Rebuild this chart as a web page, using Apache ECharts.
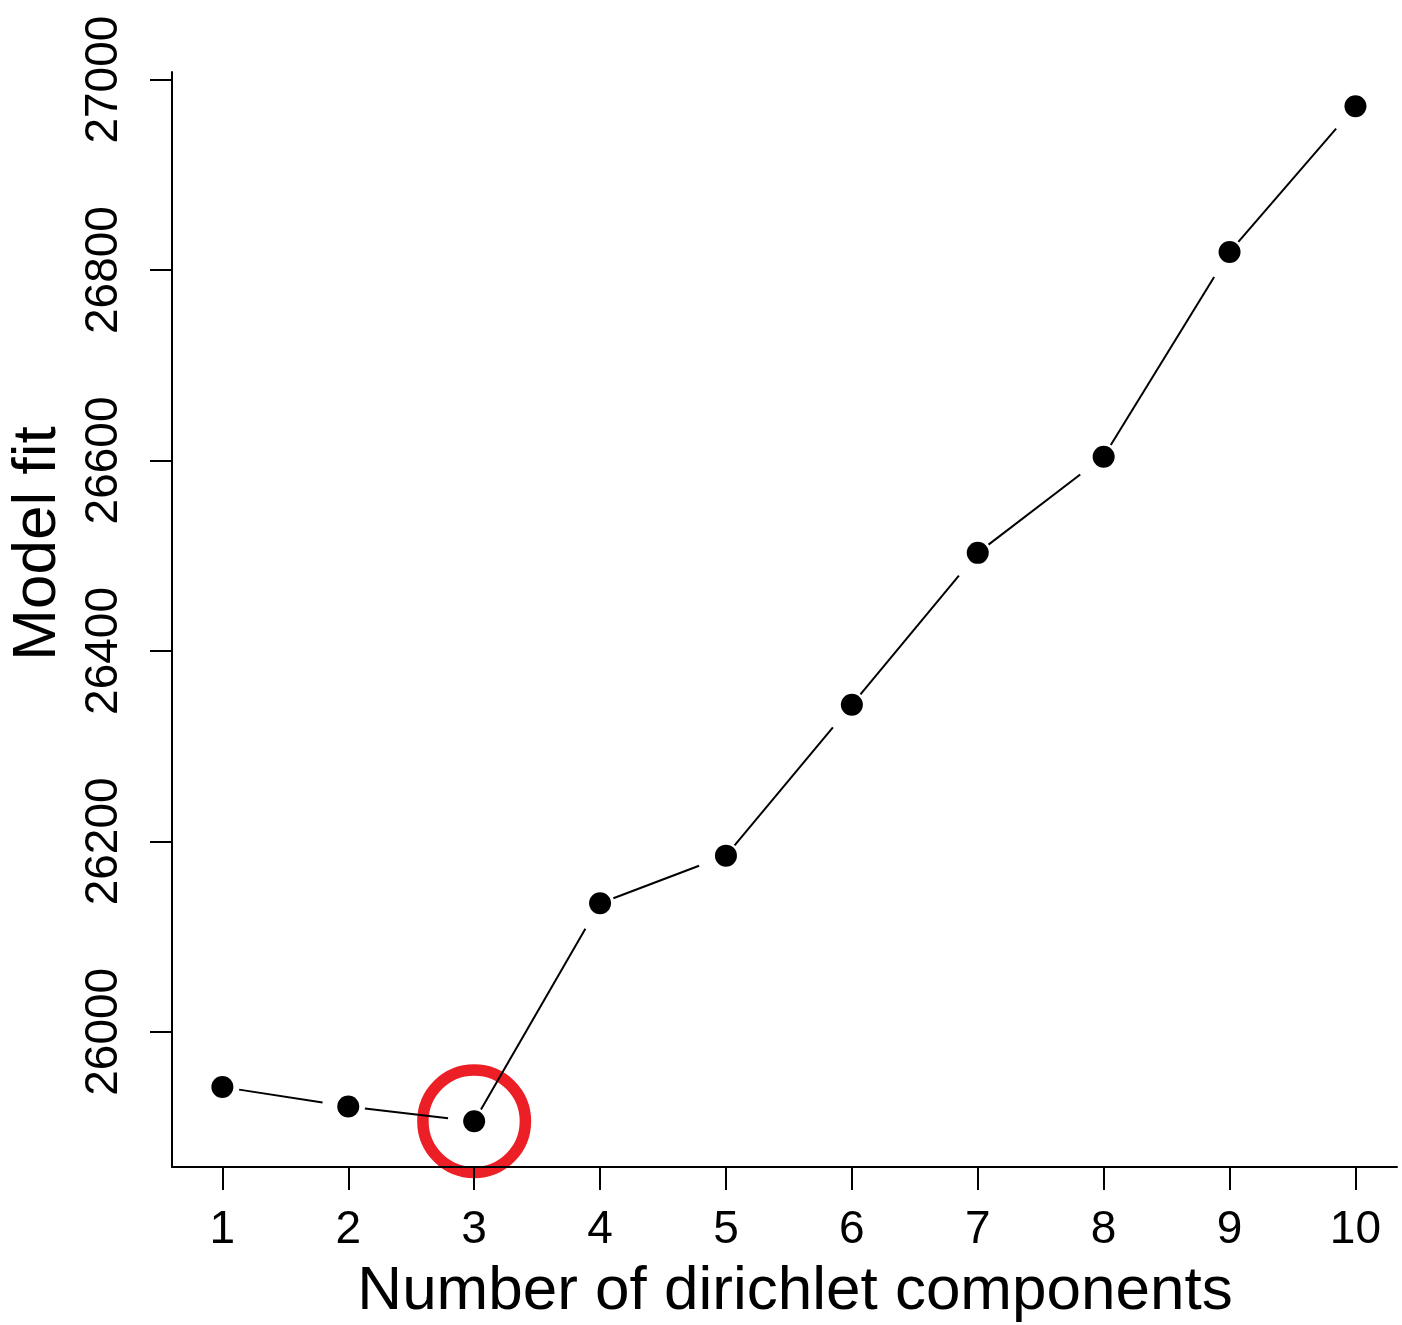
<!DOCTYPE html>
<html>
<head>
<meta charset="utf-8">
<script src="https://cdn.jsdelivr.net/npm/echarts@6/dist/echarts.min.js"></script>
<style>
  html, body { margin: 0; padding: 0; background: #fff; }
  #chart { width: 1402px; height: 1325px; }
</style>
</head>
<body>
<div id="chart"></div>
<script>
// ---- data ----
const components = [1, 2, 3, 4, 5, 6, 7, 8, 9, 10];
const modelFit = [25942, 25921.5, 25906, 26135, 26185, 26343.5, 26503, 26604, 26819, 26972];
const xTickValues = [1, 2, 3, 4, 5, 6, 7, 8, 9, 10];
const yTickValues = [26000, 26200, 26400, 26600, 26800, 27000];
const highlightIndex = 2; // 3 components
const xTitle = 'Number of dirichlet components';
const yTitle = 'Model fit';

// ---- derived ----
const points = components.map((c, i) => [c, modelFit[i]]);
const segments = [];
for (let i = 0; i < components.length - 1; i++) {
  segments.push([components[i], modelFit[i], components[i + 1], modelFit[i + 1]]);
}

const FONT = "'Liberation Sans', Arial, Helvetica, sans-serif";
const chart = echarts.init(document.getElementById('chart'), null, { renderer: 'canvas' });

const option = {
  backgroundColor: '#ffffff',
  animation: false,
  grid: { left: 172, top: 72, width: 1225, height: 1095, containLabel: false, outerBoundsMode: 'none' },
  xAxis: {
    type: 'value',
    min: 0.6,
    max: 10.33,
    z: 5,
    name: xTitle,
    nameLocation: 'middle',
    nameGap: 94,
    nameTextStyle: { fontFamily: FONT, fontSize: 62, color: '#000', padding: [0, 0, 0, 21] },
    axisLine: { show: true, onZero: false, lineStyle: { color: '#000', width: 2 } },
    axisTick: { show: true, customValues: xTickValues, length: 23, lineStyle: { color: '#000', width: 2 } },
    axisLabel: {
      show: true, customValues: xTickValues, margin: 40,
      fontFamily: FONT, fontSize: 46, color: '#000',
      formatter: v => String(v)
    },
    splitLine: { show: false }
  },
  yAxis: {
    type: 'value',
    min: 25858,
    max: 27008,
    z: 5,
    name: yTitle,
    nameLocation: 'middle',
    nameGap: 103,
    nameRotate: 90,
    nameTextStyle: { fontFamily: FONT, fontSize: 62, color: '#000', padding: [0, 0, 0, 152] },
    axisLine: { show: true, onZero: false, lineStyle: { color: '#000', width: 2 } },
    axisTick: { show: true, customValues: yTickValues, length: 22, lineStyle: { color: '#000', width: 2 } },
    axisLabel: {
      show: true, customValues: yTickValues, margin: 45, rotate: 90,
      fontFamily: FONT, fontSize: 46, color: '#000',
      formatter: v => String(v)
    },
    splitLine: { show: false }
  },
  series: [
    {
      type: 'scatter',
      z: 1,
      silent: true,
      data: [points[highlightIndex]],
      symbol: 'circle',
      symbolSize: 102.5,
      itemStyle: { color: 'rgba(0,0,0,0)', borderColor: '#EC1F27', borderWidth: 11.5, opacity: 1 }
    },
    {
      type: 'custom',
      z: 2,
      silent: true,
      data: segments,
      encode: { x: [0, 2], y: [1, 3] },
      renderItem: function (params, api) {
        const p0 = api.coord([api.value(0), api.value(1)]);
        const p1 = api.coord([api.value(2), api.value(3)]);
        const dx = p1[0] - p0[0], dy = p1[1] - p0[1];
        const len = Math.sqrt(dx * dx + dy * dy);
        const ux = dx / len, uy = dy / len;
        const shift = 5.5 * ux - 5.9 * uy;
        const gStart = 21.5 - shift, gEnd = 21.5 + shift;
        return {
          type: 'line',
          shape: {
            x1: p0[0] + ux * gStart, y1: p0[1] + uy * gStart,
            x2: p1[0] - ux * gEnd, y2: p1[1] - uy * gEnd
          },
          style: { stroke: '#000', lineWidth: 2 }
        };
      }
    },
    {
      type: 'scatter',
      z: 3,
      data: points,
      symbol: 'circle',
      symbolSize: 22,
      itemStyle: { color: '#000', opacity: 1 }
    }
  ]
};
chart.setOption(option);
</script>
</body>
</html>
